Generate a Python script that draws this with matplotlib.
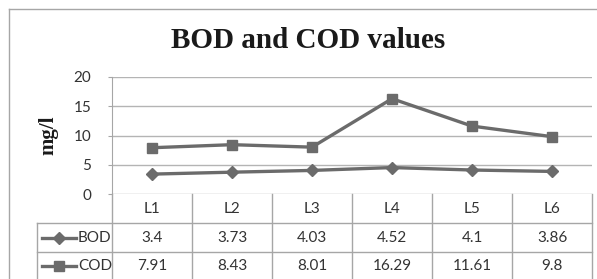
import matplotlib as mpl
mpl.use('Agg')
import matplotlib.pyplot as plt
from matplotlib.transforms import Affine2D, blended_transform_factory
from matplotlib.lines import Line2D

## Data

sites = ['L1', 'L2', 'L3', 'L4', 'L5', 'L6']
bod = [3.4, 3.73, 4.03, 4.52, 4.1, 3.86]
cod = [7.91, 8.43, 8.01, 16.29, 11.61, 9.8]
bod_labels = ['3.4', '3.73', '4.03', '4.52', '4.1', '3.86']
cod_labels = ['7.91', '8.43', '8.01', '16.29', '11.61', '9.8']
yticks = [0, 5, 10, 15, 20]

## Figure

W, H = 597, 279
fig = plt.figure(figsize=(W / 100, H / 100), dpi=100)
# pixel coords measured from top-left
px = Affine2D().scale(1 / W, -1 / H).translate(0, 1) + fig.transFigure

line_col = '#6b6b6b'
grid_col = '#b4b4b4'
tab_col = '#a6a6a6'
txt_col = '#333333'
sans = 'Lato'
serif = 'Liberation Serif'
fs = 11

ax = fig.add_axes([112 / W, 1 - 194 / H, 480 / W, 117 / H])
x = list(range(len(sites)))
ax.plot(x, bod, color=line_col, lw=2.4, marker='D', ms=6.5, zorder=3)
ax.plot(x, cod, color=line_col, lw=2.4, marker='s', ms=7.5, zorder=3)
ax.set_xlim(-0.5, len(sites) - 0.5)
ax.set_ylim(0, 20)
ax.set_yticks(yticks)
ax.set_yticklabels([str(t) for t in yticks], fontfamily=sans, fontsize=fs, color=txt_col)
ax.set_xticks([])
ax.tick_params(axis='y', length=3, color=tab_col, pad=12)
for t in yticks:
    ax.axhline(t, color=grid_col, lw=1, zorder=1)
for s in ['top', 'right', 'bottom']:
    ax.spines[s].set_visible(False)
ax.spines['left'].set_color(tab_col)
ax.set_facecolor('none')

ax.set_ylabel('mg/l', fontfamily=serif, fontweight='bold', fontsize=15, color='#1a1a1a', labelpad=11)

fig.text(308, 40, 'BOD and COD values', transform=px, ha='center', va='center',
         fontfamily=serif, fontweight='bold', fontsize=21, color='#1a1a1a')

# outer chart border
fig.add_artist(Line2D([9, W], [9, 9], transform=px, color=tab_col, lw=1))
fig.add_artist(Line2D([9, 9], [9, H], transform=px, color=tab_col, lw=1))

## Data table

tb = blended_transform_factory(ax.transData, px)
rows_y = [194, 223, 252, H]
for i in range(len(sites) + 1):
    fig.add_artist(Line2D([i - 0.5, i - 0.5], [194, H], transform=tb, color=tab_col, lw=1))
for yy in rows_y[1:3]:
    fig.add_artist(Line2D([37, 592], [yy, yy], transform=px, color=tab_col, lw=1))
fig.add_artist(Line2D([37, 37], [223, H], transform=px, color=tab_col, lw=1))

for i, s in enumerate(sites):
    fig.text(i, 209, s, transform=tb, ha='center', va='center', fontfamily=sans, fontsize=fs, color=txt_col)
    fig.text(i, 238, bod_labels[i], transform=tb, ha='center', va='center', fontfamily=sans, fontsize=fs, color=txt_col)
    fig.text(i, 266, cod_labels[i], transform=tb, ha='center', va='center', fontfamily=sans, fontsize=fs, color=txt_col)

for yy, name, mk, ms in [(238, 'BOD', 'D', 6), (266, 'COD', 's', 7.5)]:
    fig.add_artist(Line2D([42, 76], [yy, yy], transform=px, color=line_col, lw=2.4))
    fig.add_artist(Line2D([59], [yy], transform=px, color=line_col, marker=mk, ms=ms, lw=0))
    fig.text(78, yy, name, transform=px, ha='left', va='center', fontfamily=sans, fontsize=fs, color=txt_col)

fig.savefig('out.png', dpi=100)
